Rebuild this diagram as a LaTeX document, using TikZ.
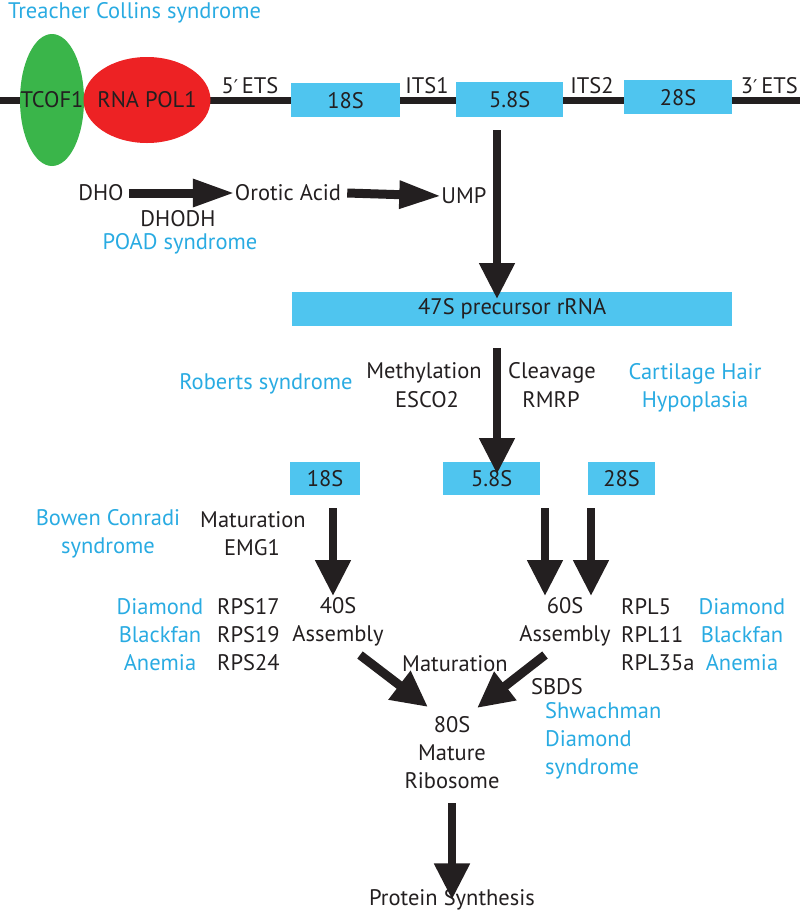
\documentclass[tikz,border=0pt]{standalone}
\usepackage{fontspec}
\setmainfont{PT Sans}
\newfontfamily\primefont{DejaVu Sans}
\newcommand{\prm}{{\primefont\fontsize{19}{23}\selectfont ′}}
\usetikzlibrary{arrows.meta,shapes.geometric}
\definecolor{txt}{HTML}{231F20}
\definecolor{syn}{HTML}{29ABE2}
\definecolor{boxc}{HTML}{4FC5EF}
\definecolor{grn}{HTML}{3AB54A}
\definecolor{rd}{HTML}{ED2224}
\tikzset{
  lbl/.style={text=txt,font=\fontsize{22.5}{28}\selectfont,inner sep=0pt,align=center},
  syndr/.style={text=syn,font=\fontsize{22.5}{28}\selectfont,inner sep=0pt,align=center},
  rbox/.style={fill=boxc,text=txt,font=\fontsize{22.5}{28}\selectfont,inner sep=0pt,anchor=north west},
  bigarrow/.style={draw=txt,line width=8pt,-{Triangle[length=36pt,width=34pt]}},
  sidearrow/.style={draw=txt,line width=9pt,-{Triangle[length=42pt,width=26pt]}},
}
\begin{document}
\begin{tikzpicture}[x=1pt,y=-1pt]
\useasboundingbox (0,0) rectangle (800,914);
% gene line
\coordinate (L) at (0,100);
\coordinate (R) at (800,100);
\draw[txt,line width=7pt] (L) -- (R);
\node[syndr,anchor=west] (tcs) at (8,13) {Treacher Collins syndrome};
\node[ellipse,fill=grn,minimum width=64pt,minimum height=132pt,inner sep=0pt] (tcof) at (52,100) {};
\node[ellipse,fill=rd,minimum width=127pt,minimum height=86pt,inner sep=0pt] (pol) at (147,100) {};
\node[lbl] at (52,100) {TCOF1};
\node[lbl] at (147,100) {RNA POL1};
\node[lbl] (ets5) at (250,86) {5\prm\,ETS};
\node[rbox,minimum width=109pt,minimum height=34pt] (g18) at (291,83) {18S};
\node[lbl] (its1) at (427,86) {ITS1};
\node[rbox,minimum width=107pt,minimum height=35pt] (g58) at (456,82) {5.8S};
\node[lbl] (its2) at (592,86) {ITS2};
\node[rbox,minimum width=108pt,minimum height=34pt] (g28) at (624,80) {28S};
\node[lbl,anchor=east] (ets3) at (798,86) {3\prm\,ETS};
% pyrimidine
\node[lbl] (dho) at (101,193) {DHO};
\node[lbl] (oro) at (288,193) {Orotic Acid};
\node[lbl] (ump) at (464,196) {UMP};
\node[lbl] (dhodh) at (178,219) {DHODH};
\node[syndr] (poad) at (180,244) {POAD syndrome};
\draw[sidearrow] ([xshift=5pt]dho.east) -- (oro.west);
\draw[sidearrow] ([xshift=6pt]oro.east) -- (ump.west);
% 47S
\node[rbox,minimum width=440pt,minimum height=34pt] (p47) at (292,292) {47S precursor rRNA};
\draw[bigarrow] ([yshift=-13pt]g58.south -| 497,0) -- ([yshift=-7pt]p47.north -| 497,0);
% processing
\node[lbl] (meth) at (424,373) {Methylation};
\node[lbl] (esco) at (427,400) {ESCO2};
\node[lbl] (clv) at (552,373) {Cleavage};
\node[lbl] (rmrp) at (551,400) {RMRP};
\node[syndr] (rob) at (266,384) {Roberts syndrome};
\node[syndr] (chh) at (695,388) {Cartilage Hair\\Hypoplasia};
\node[rbox,minimum width=70pt,minimum height=33pt] (b18) at (290,462) {18S};
\node[rbox,minimum width=97pt,minimum height=33pt] (b58) at (443,462) {5.8S};
\node[rbox,minimum width=67pt,minimum height=33pt] (b28) at (588,462) {28S};
\draw[bigarrow] ([yshift=-22pt]p47.south -| 497,0) -- ([yshift=-12pt]b58.north -| 497,0);
% subunits
\node[lbl] (matl) at (253,520) {Maturation};
\node[lbl] (emg) at (252,548) {EMG1};
\node[syndr] (bcs) at (108,534) {Bowen Conradi\\syndrome};
\node[lbl] (s40) at (338,622) {40S\\Assembly};
\node[lbl] (s60) at (565,622) {60S\\Assembly};
\node[syndr] (dbal) at (160,635) {Diamond\\Blackfan\\Anemia};
\node[lbl,align=left,anchor=west] (rps) at (217,635) {RPS17\\RPS19\\RPS24};
\node[lbl,align=left,anchor=west] (rpl) at (621,635) {RPL5\\RPL11\\RPL35a};
\node[syndr] (dbar) at (742,635) {Diamond\\Blackfan\\Anemia};
\coordinate (a1s) at (333,508);
\coordinate (a1e) at (333,596);
\coordinate (a2s) at (545,508);
\coordinate (a2e) at (545,596);
\coordinate (a3s) at (591,508);
\coordinate (a3e) at (591,596);
\draw[bigarrow] (a1s) -- (a1e);
\draw[bigarrow] (a2s) -- (a2e);
\draw[bigarrow] (a3s) -- (a3e);
% 80S
\node[lbl] (mat2) at (455,664) {Maturation};
\node[lbl] (sbds) at (557,687) {SBDS};
\node[syndr,align=left,anchor=west] (sds) at (545,741) {Shwachman\\Diamond\\syndrome};
\node[lbl] (r80) at (452,753) {80S\\Mature\\Ribosome};
\coordinate (d1) at (360,655);
\coordinate (d2) at (545,655);
\draw[bigarrow,line width=9pt] (d1) -- (428,707);
\draw[bigarrow,line width=9pt] (d2) -- (477,708);
\node[lbl] (prot) at (452,900) {Protein Synthesis};
\draw[bigarrow] ([yshift=-14pt]r80.south) -- ([yshift=-10pt]prot.north);
\end{tikzpicture}
\end{document}
